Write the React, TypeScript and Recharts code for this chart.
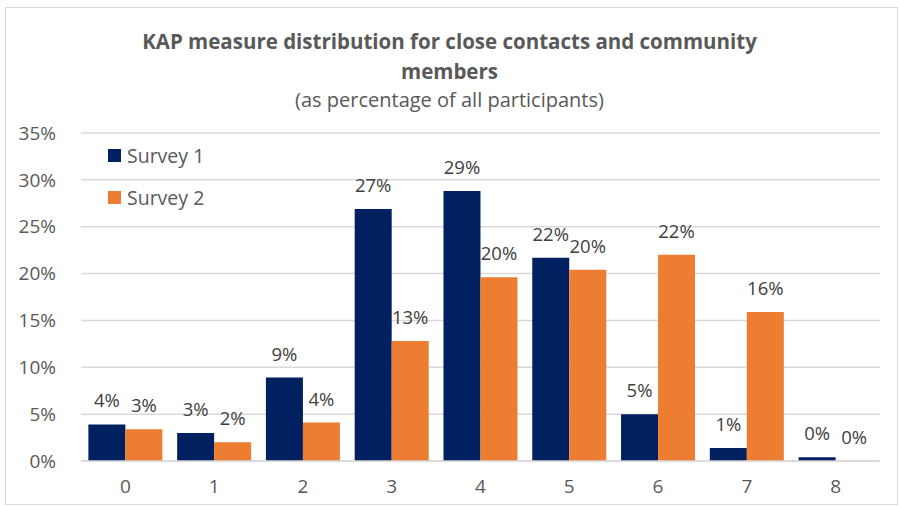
import { BarChart, Bar, XAxis, YAxis, CartesianGrid, LabelList } from "recharts";

const scores = ["0", "1", "2", "3", "4", "5", "6", "7", "8"];
const survey1 = [3.9, 3.0, 8.9, 26.9, 28.8, 21.7, 5.0, 1.4, 0.4];
const survey2 = [3.4, 2.0, 4.1, 12.8, 19.6, 20.4, 22.0, 15.9, 0.04];
const yTicks = [0, 5, 10, 15, 20, 25, 30, 35];

const navy = "#002060";
const orange = "#ED7D31";
const font = "'Open Sans', 'Noto Sans', sans-serif";

const data = scores.map((s, i) => ({
  score: s,
  s1: survey1[i],
  s2: survey2[i]
}));

const valueLabel = (props: any) => {
  const { x, y, width, value } = props;
  if (value == null) return null;
  return (
    <text
      x={Number(x) + Number(width) / 2}
      y={Number(y) - 17}
      textAnchor="middle"
      fill="#404040"
      fontSize={18.5}
      fontFamily={font}
    >
      {`${Math.round(Number(value))}%`}
    </text>
  );
};

export default function App() {
  return (
    <div style={{ position: "absolute", left: 0, top: 0, width: 899, height: 506, fontFamily: font }}>
      <div
        style={{
          position: "absolute",
          left: 5,
          top: 7,
          width: 893,
          height: 498,
          border: "1px solid #d9d9d9",
          boxSizing: "border-box"
        }}
      />
      <div
        style={{
          position: "absolute",
          left: 0,
          width: 899,
          top: 26,
          textAlign: "center",
          color: "#595959",
          fontWeight: 700,
          fontSize: 20.5,
          lineHeight: "30px"
        }}
      >
        KAP measure distribution for close contacts and community
        <br />
        members
      </div>
      <div
        style={{
          position: "absolute",
          left: 0,
          width: 899,
          top: 86,
          textAlign: "center",
          color: "#595959",
          fontSize: 20
        }}
      >
        (as percentage of all participants)
      </div>

      <BarChart
        width={899}
        height={506}
        data={data}
        margin={{ top: 133, right: 19, bottom: 0, left: 0 }}
        barCategoryGap="8.3%"
        barGap={0}
        style={{ position: "absolute", left: 0, top: 0 }}
      >
        <CartesianGrid vertical={false} stroke="#d9d9d9" strokeWidth={1.5} />
        <XAxis
          dataKey="score"
          height={45}
          axisLine={{ stroke: "#d9d9d9", strokeWidth: 1.5 }}
          tickLine={false}
          tick={{ fill: "#595959", fontSize: 19, fontFamily: font }}
          tickMargin={13}
        />
        <YAxis
          width={81}
          domain={[0, 35]}
          ticks={yTicks}
          tickFormatter={(v) => `${v}%`}
          axisLine={false}
          tickLine={false}
          tick={{ fill: "#595959", fontSize: 19, fontFamily: font }}
          tickMargin={19}
        />
        <Bar dataKey="s1" fill={navy} isAnimationActive={false}>
          <LabelList dataKey="s1" content={valueLabel} />
        </Bar>
        <Bar dataKey="s2" fill={orange} isAnimationActive={false}>
          <LabelList dataKey="s2" content={valueLabel} />
        </Bar>
      </BarChart>

      <div style={{ position: "absolute", left: 108, top: 141, color: "#595959", fontSize: 19.5 }}>
        <div style={{ display: "flex", alignItems: "center", height: 28 }}>
          <span style={{ width: 13, height: 13, background: navy, marginRight: 6 }} />
          Survey 1
        </div>
        <div style={{ display: "flex", alignItems: "center", height: 28, marginTop: 14 }}>
          <span style={{ width: 13, height: 13, background: orange, marginRight: 6 }} />
          Survey 2
        </div>
      </div>
    </div>
  );
}
